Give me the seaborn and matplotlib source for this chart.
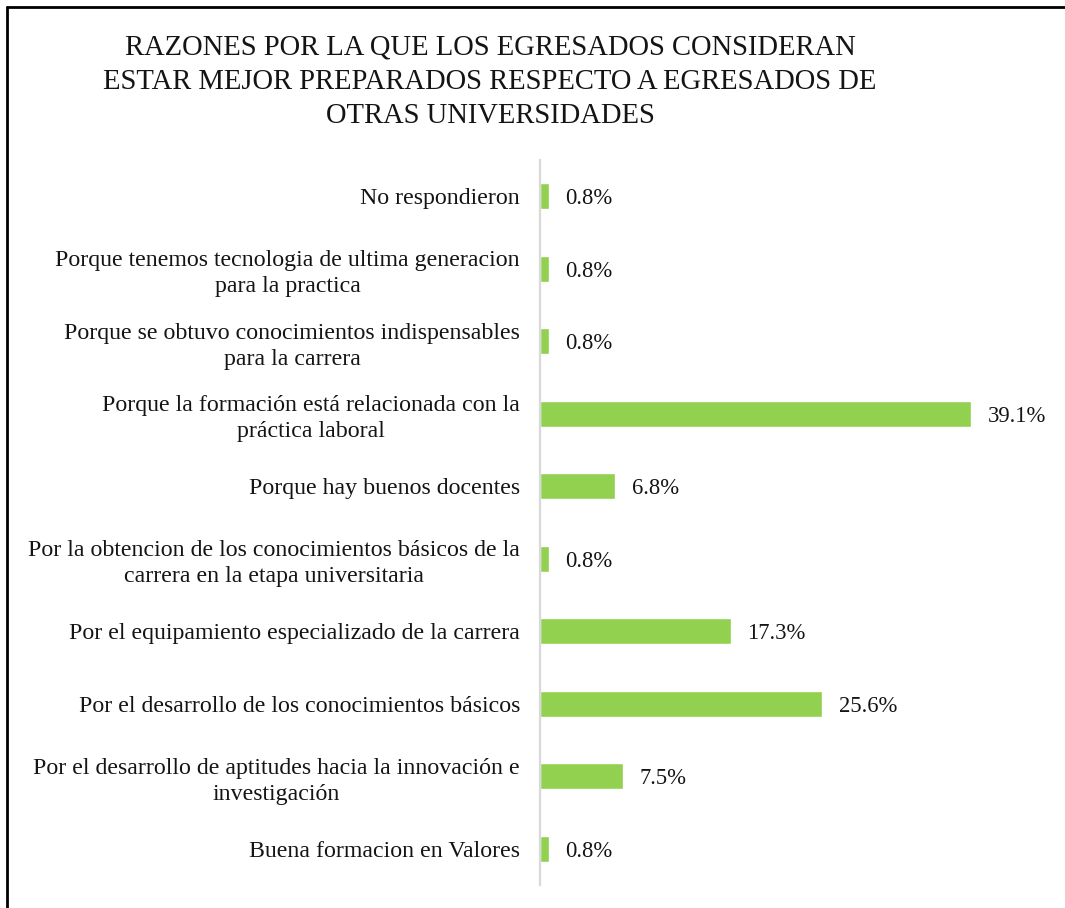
import matplotlib
matplotlib.use("Agg")
import matplotlib.pyplot as plt
import seaborn as sns
import pandas as pd
from matplotlib.lines import Line2D

# categories, top to bottom as in the chart
razones = [
    "No respondieron",
    "Porque tenemos tecnologia de ultima generacion\npara la practica",
    "Porque se obtuvo conocimientos indispensables\npara la carrera",
    "Porque la formación está relacionada con la\npráctica laboral",
    "Porque hay buenos docentes",
    "Por la obtencion de los conocimientos básicos de la\ncarrera en la etapa universitaria",
    "Por el equipamiento especializado de la carrera",
    "Por el desarrollo de los conocimientos básicos",
    "Por el desarrollo de aptitudes hacia la innovación e\ninvestigación",
    "Buena formacion en Valores",
]
porcentajes = [0.8, 0.8, 0.8, 39.1, 6.8, 0.8, 17.3, 25.6, 7.5, 0.8]
etiquetas = [f"{v:.1f}%" for v in porcentajes]

titulo = ("RAZONES POR LA QUE LOS EGRESADOS CONSIDERAN\n"
          "ESTAR MEJOR PREPARADOS RESPECTO A EGRESADOS DE\n"
          "OTRAS UNIVERSIDADES")

df = pd.DataFrame({"razon": razones, "pct": porcentajes})

sns.set_style("white")
plt.rcParams["font.family"] = ["Liberation Serif", "DejaVu Serif"]

fig = plt.figure(figsize=(10.65, 9.08), dpi=100)
ax = fig.add_axes([540 / 1065, 23 / 908, 460 / 1065, 725 / 908])

sns.barplot(data=df, x="pct", y="razon", orient="h", color="#92d050",
            width=0.36, saturation=1, ax=ax)

txts = ax.bar_label(ax.containers[0], labels=etiquetas, padding=12,
                    fontsize=16.3, color="#141414")
for t in txts:
    t.set_va("center_baseline")

ax.set_xlim(0, 460 / 11.02)
ax.set_ylim(9.5, -0.5)
ax.set_xlabel("")
ax.set_ylabel("")
ax.set_xticks([])
ax.tick_params(axis="y", length=0, pad=14.4, labelsize=17.2, labelcolor="#141414")
for lbl in ax.get_yticklabels():
    lbl.set_linespacing(1.3)
    lbl.set_multialignment("center")
for s in ["top", "right", "bottom"]:
    ax.spines[s].set_visible(False)
ax.spines["left"].set_color("#d9d9d9")
ax.spines["left"].set_linewidth(1.6)

fig.text(490 / 1065, 1 - 82 / 908, titulo, ha="center", va="center",
         fontsize=20.6, color="#141414", linespacing=1.42)

# outer frame (left and top edges only)
fig.add_artist(Line2D([7 / 1065, 7 / 1065], [0, 1 - 7 / 908],
                      transform=fig.transFigure, color="black", lw=2))
fig.add_artist(Line2D([7 / 1065, 1], [1 - 7 / 908, 1 - 7 / 908],
                      transform=fig.transFigure, color="black", lw=2))

fig.savefig("out.png", dpi=100, facecolor="white")
